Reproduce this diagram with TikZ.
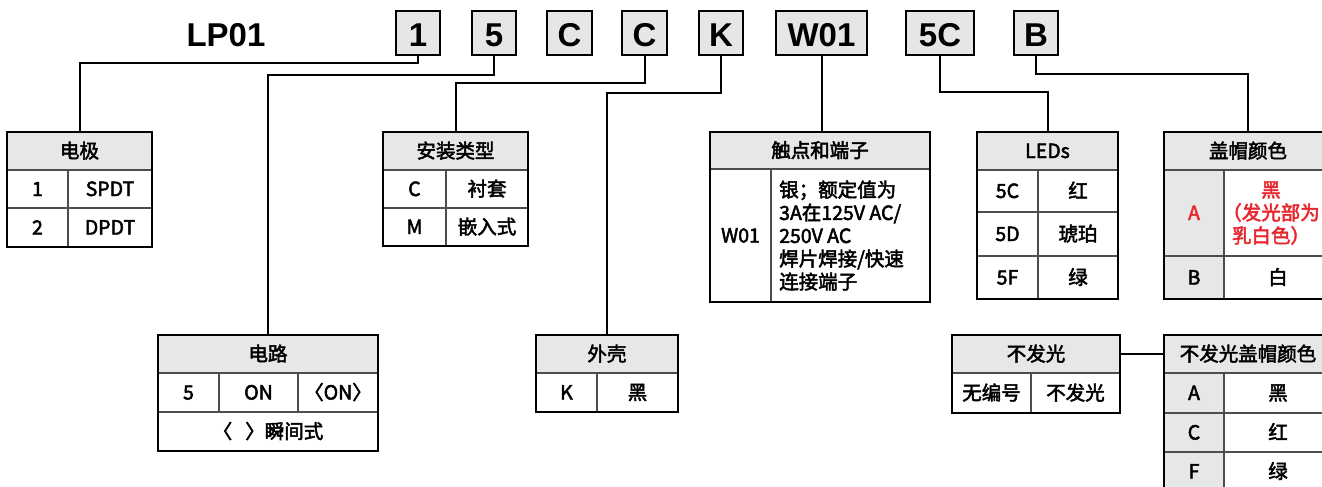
\documentclass[tikz,border=0pt]{standalone}
\usepackage{fontspec}
\newfontfamily\cjk[FakeBold=2.5]{Noto Sans CJK SC}
\newfontfamily\hv{Liberation Sans}
\definecolor{hdrgray}{HTML}{E6E7E8}
\definecolor{boxgray}{HTML}{E6E6E6}
\definecolor{cellline}{HTML}{4D4D4D}
\definecolor{redtxt}{HTML}{E8262D}
\tikzset{
  codebox/.style={draw=black, line width=2pt, fill=boxgray, font=\hv\bfseries\fontsize{33}{33}\selectfont,
    minimum width=44pt, minimum height=44pt, inner sep=0pt, outer sep=0pt, text height=27pt, text depth=0pt, anchor=north west},
  cell/.style={draw=cellline, line width=1.2pt, inner sep=0pt, outer sep=0pt, anchor=north west,
    font=\cjk\fontsize{19.5}{23}\selectfont, text height=14pt, text depth=0pt},
  hcell/.style={cell, fill=hdrgray},
  gcell/.style={cell, fill=hdrgray},
  multi/.style={text height={}, text depth={}, inner sep=0pt, font=\cjk\fontsize{19.5}{23}\selectfont},
  redt/.style={text=redtxt},
  frame/.style={draw=black, line width=2.5pt, inner sep=0pt, outer sep=0pt, anchor=north west},
  conn/.style={draw=black, line width=2pt},
}
\begin{document}
\begin{tikzpicture}[x=1pt,y=-1pt]
\useasboundingbox (0,0) rectangle (1322,487);
\clip (0,0) rectangle (1322,487);
\fill[white] (0,0) rectangle (1322,487);

% ---- code row ----
\node[font=\hv\bfseries\fontsize{33}{33}\selectfont, anchor=base] (lp) at (226,47) {LP01};
\node[codebox, minimum width=44pt] (b1) at (396,11) {1};
\node[codebox, minimum width=44pt] (b5) at (472,11) {5};
\node[codebox, minimum width=45pt] (bc1) at (547,11) {C};
\node[codebox, minimum width=45pt] (bc2) at (622,11) {C};
\node[codebox, minimum width=44pt] (bk) at (699,11) {K};
\node[codebox, minimum width=91pt] (bw) at (776,11) {W01};
\node[codebox, minimum width=68pt] (b5c) at (906,11) {5C};
\node[codebox, minimum width=44pt] (bb) at (1014,11) {B};

% ---- T1 电极 ----
\node[hcell, minimum width=145pt, minimum height=38pt] (t1h) at (7,132) {电极};
\node[cell, minimum width=61pt, minimum height=38pt] (t1a) at (7,170) {1};
\node[cell, minimum width=84pt, minimum height=38pt] (t1b) at (68,170) {SPDT};
\node[cell, minimum width=61pt, minimum height=39pt] (t1c) at (7,208) {2};
\node[cell, minimum width=84pt, minimum height=39pt] (t1d) at (68,208) {DPDT};
\node[frame, minimum width=145pt, minimum height=115pt] (T1) at (7,132) {};

% ---- T2 安装类型 ----
\node[hcell, minimum width=145pt, minimum height=38pt] (t2h) at (383,132) {安装类型};
\node[cell, minimum width=63pt, minimum height=38pt] (t2a) at (383,170) {C};
\node[cell, minimum width=82pt, minimum height=38pt] (t2b) at (446,170) {衬套};
\node[cell, minimum width=63pt, minimum height=38pt] (t2c) at (383,208) {M};
\node[cell, minimum width=82pt, minimum height=38pt] (t2d) at (446,208) {嵌入式};
\node[frame, minimum width=145pt, minimum height=114pt] (T2) at (383,132) {};

% ---- T3 触点和端子 ----
\node[hcell, minimum width=220pt, minimum height=37pt] (t3h) at (710,132) {触点和端子};
\node[cell, minimum width=61pt, minimum height=133pt] (t3a) at (710,169) {W01};
\node[cell, minimum width=159pt, minimum height=133pt] (t3b) at (771,169) {};
\node[multi, align=left, anchor=west] (t3bt) at (t3b.west -| 779,0)
  {银；额定值为\\3A在125V AC/\\250V AC\\焊片焊接/快速\\连接端子};
\node[frame, minimum width=220pt, minimum height=170pt] (T3) at (710,132) {};

% ---- T4 LEDs ----
\node[hcell, minimum width=141pt, minimum height=38pt] (t4h) at (977,132) {LEDs};
\node[cell, minimum width=61pt, minimum height=42pt] (t4a) at (977,170) {5C};
\node[cell, minimum width=80pt, minimum height=42pt] (t4b) at (1038,170) {红};
\node[cell, minimum width=61pt, minimum height=44pt] (t4c) at (977,212) {5D};
\node[cell, minimum width=80pt, minimum height=44pt] (t4d) at (1038,212) {琥珀};
\node[cell, minimum width=61pt, minimum height=43pt] (t4e) at (977,256) {5F};
\node[cell, minimum width=80pt, minimum height=43pt] (t4f) at (1038,256) {绿};
\node[frame, minimum width=141pt, minimum height=167pt] (T4) at (977,132) {};

% ---- T5 盖帽颜色 ----
\node[hcell, minimum width=168pt, minimum height=38pt] (t5h) at (1164,132) {盖帽颜色};
\node[gcell, redt, minimum width=60pt, minimum height=86pt] (t5a) at (1164,170) {A};
\node[cell, minimum width=108pt, minimum height=86pt] (t5b) at (1224,170) {};
\node[multi, redt, align=center] (t5bt) at ([xshift=-7pt]t5b.center)
  {黑\\（发光部为\\乳白色）};
\node[gcell, minimum width=60pt, minimum height=43pt] (t5c) at (1164,256) {B};
\node[cell, minimum width=108pt, minimum height=43pt] (t5d) at (1224,256) {白};
\node[frame, minimum width=168pt, minimum height=167pt] (T5) at (1164,132) {};

% ---- T6 电路 ----
\node[hcell, minimum width=220pt, minimum height=38pt] (t6h) at (158,335) {电路};
\node[cell, minimum width=61pt, minimum height=39pt] (t6a) at (158,373) {5};
\node[cell, minimum width=79pt, minimum height=39pt] (t6b) at (219,373) {ON};
\node[cell, minimum width=80pt, minimum height=39pt] (t6c) at (298,373) {〈ON〉};
\node[cell, minimum width=220pt, minimum height=39pt] (t6d) at (158,412) {〈\hspace{13pt}〉瞬间式};
\node[frame, minimum width=220pt, minimum height=116pt] (T6) at (158,335) {};

% ---- T7 外壳 ----
\node[hcell, minimum width=142pt, minimum height=38pt] (t7h) at (536,335) {外壳};
\node[cell, minimum width=61pt, minimum height=39pt] (t7a) at (536,373) {K};
\node[cell, minimum width=81pt, minimum height=39pt] (t7b) at (597,373) {黑};
\node[frame, minimum width=142pt, minimum height=77pt] (T7) at (536,335) {};

% ---- T8 不发光 ----
\node[hcell, minimum width=168pt, minimum height=38pt] (t8h) at (952,335) {不发光};
\node[cell, minimum width=79pt, minimum height=40pt] (t8a) at (952,373) {无编号};
\node[cell, minimum width=89pt, minimum height=40pt] (t8b) at (1031,373) {不发光};
\node[frame, minimum width=168pt, minimum height=78pt] (T8) at (952,335) {};

% ---- T9 不发光盖帽颜色 ----
\node[hcell, minimum width=168pt, minimum height=38pt] (t9h) at (1164,335) {不发光盖帽颜色};
\node[gcell, minimum width=60pt, minimum height=40pt] (t9a) at (1164,373) {A};
\node[cell, minimum width=108pt, minimum height=40pt] (t9b) at (1224,373) {黑};
\node[gcell, minimum width=60pt, minimum height=39pt] (t9c) at (1164,413) {C};
\node[cell, minimum width=108pt, minimum height=39pt] (t9d) at (1224,413) {红};
\node[gcell, minimum width=60pt, minimum height=39pt] (t9e) at (1164,452) {F};
\node[cell, minimum width=108pt, minimum height=39pt] (t9f) at (1224,452) {绿};
\node[frame, minimum width=168pt, minimum height=156pt] (T9) at (1164,335) {};

% ---- connectors ----
\draw[conn] (b1.south) -- ++(0,8) -| (T1.north);
\draw[conn] (b5.south) -- ++(0,20) -| (T6.north);
\draw[conn] (bc2.south) -- ++(0,28) -| (T2.north);
\draw[conn] (bk.south) -- ++(0,38) -| (T7.north);
\draw[conn] (bw.south) -- (bw.south |- T3.north);
\draw[conn] (b5c.south) -- ++(0,37) -| (T4.north);
\draw[conn] (bb.south) -- ++(0,19) -| (T5.north);
\draw[conn] (t8h.east) -- (t9h.west);
\end{tikzpicture}
\end{document}
